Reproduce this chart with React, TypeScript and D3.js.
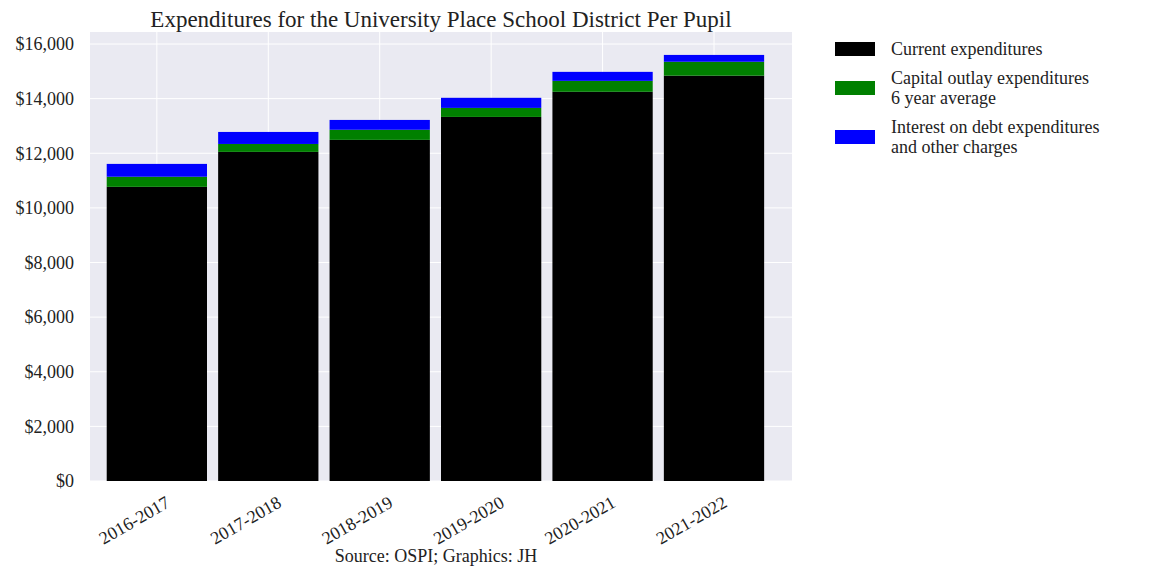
import React from 'react';
import { scaleLinear, range } from 'd3';

const years = ['2016-2017', '2017-2018', '2018-2019', '2019-2020', '2020-2021', '2021-2022'];
const current = [10770, 12050, 12490, 13330, 14250, 14840];
const capital = [370, 290, 370, 330, 400, 510];
const interest = [470, 440, 360, 370, 330, 250];
const yTicks = [0, 2000, 4000, 6000, 8000, 10000, 12000, 14000, 16000];
const legendItems = [
  { color: '#000000', lines: ['Current expenditures'] },
  { color: '#008000', lines: ['Capital outlay expenditures', '6 year average'] },
  { color: '#0000ff', lines: ['Interest on debt expenditures', 'and other charges'] },
];

const W = 1152, H = 576;
const left = 90, right = 792, top = 32, bottom = 481;
const font = '"Liberation Serif", "DejaVu Serif", serif';

const App: React.FC = () => {
  const x = scaleLinear().domain([-0.6, 5.7]).range([left, right]);
  const y = scaleLinear().domain([0, 16000]).range([bottom, 44]);
  const bw = x(0.9) - x(0);
  const fmt = (v: number) => '$' + v.toLocaleString('en-US');

  return (
    <svg width={W} height={H} style={{ position: 'absolute', left: 0, top: 0, background: '#fff' }} fontFamily={font}>
      <rect x={left} y={top} width={right - left} height={bottom - top} fill="#eaeaf2" />
      {yTicks.map(t => (
        <line key={t} x1={left} x2={right} y1={y(t)} y2={y(t)} stroke="#fff" strokeWidth={1} />
      ))}
      {range(years.length).map(i => (
        <line key={i} x1={x(i)} x2={x(i)} y1={top} y2={bottom} stroke="#fff" strokeWidth={1} />
      ))}
      {years.map((yr, i) => {
        const b0 = current[i], b1 = b0 + capital[i], b2 = b1 + interest[i];
        return (
          <g key={yr}>
            <rect x={x(i) - bw / 2} y={y(b0)} width={bw} height={y(0) - y(b0)} fill="#000" />
            <rect x={x(i) - bw / 2} y={y(b1)} width={bw} height={y(b0) - y(b1)} fill="#008000" />
            <rect x={x(i) - bw / 2} y={y(b2)} width={bw} height={y(b1) - y(b2)} fill="#0000ff" />
          </g>
        );
      })}
      {yTicks.map(t => (
        <text key={t} x={left - 16} y={y(t)} dy="0.35em" textAnchor="end" fontSize={18} fill="#222">{fmt(t)}</text>
      ))}
      {years.map((yr, i) => (
        <text key={yr} transform={`translate(${x(i) + 8},${bottom + 14}) rotate(-30)`} textAnchor="end" dy="0.7em" fontSize={18} fill="#222">{yr}</text>
      ))}
      <text x={(left + right) / 2} y={27} textAnchor="middle" fontSize={23} fill="#222">Expenditures for the University Place School District Per Pupil</text>
      <text x={436} y={562} textAnchor="middle" fontSize={18} fill="#222">Source: OSPI; Graphics: JH</text>
      {legendItems.map((it, i) => {
        const cy = [49, 88, 137][i];
        return (
          <g key={i}>
            <rect x={835} y={cy - 7} width={40} height={14} fill={it.color} />
            {it.lines.map((l, j) => (
              <text key={j} x={891} y={cy - (it.lines.length - 1) * 10 + j * 20} dy="0.35em" fontSize={18} fill="#222">{l}</text>
            ))}
          </g>
        );
      })}
    </svg>
  );
};

export default App;
